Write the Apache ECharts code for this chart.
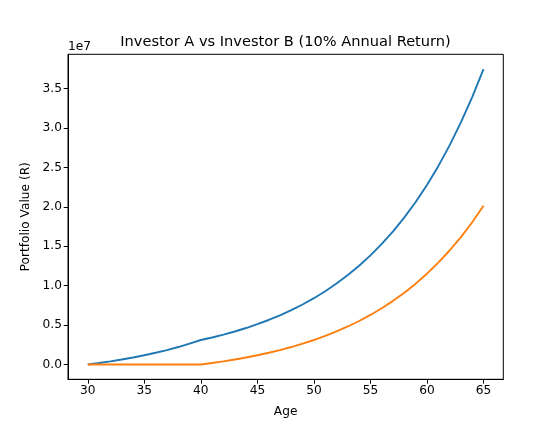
<!DOCTYPE html>
<html>
<head>
<meta charset="utf-8">
<script src="https://cdn.jsdelivr.net/npm/echarts@6/dist/echarts.min.js"></script>
<style>
html,body{margin:0;padding:0;background:#fff;}
#chart{width:535px;height:425px;}
</style>
</head>
<body>
<div id="chart"></div>
<script>
// Ages (x values)
var ages = [30,31,32,33,34,35,36,37,38,39,40,41,42,43,44,45,46,47,48,49,50,51,52,53,54,55,56,57,58,59,60,61,62,63,64,65];
// Investor A portfolio value (Rand)
var investorA = [0,190800,401500,634200,891400,1175400,1489300,1836000,2219000,2642100,3109600,3435100,3794800,4192200,4631200,5116200,5651900,6243700,6897500,7619800,8417600,9299100,10272800,11348500,12536900,13849600,15299800,16901900,18671800,20627000,22786900,25173000,27809000,30720900,33937800,37491600];
// Investor B portfolio value (Rand)
var investorB = [0,0,0,0,0,0,0,0,0,0,0,190800,401500,634200,891400,1175400,1489300,1836000,2219000,2642100,3109600,3625900,4196400,4826500,5522700,6291700,7141300,8079800,9116600,10262000,11527300,12925100,14469300,16175100,18059600,20141400];
// Tick values
var xTicks = [30,35,40,45,50,55,60,65];
var yTicks = [0,5e6,10e6,15e6,20e6,25e6,30e6,35e6];

function pairs(xs, ys){ var out=[]; for(var i=0;i<xs.length;i++){ out.push([xs[i], ys[i]]); } return out; }

var chart = echarts.init(document.getElementById('chart'), null, {renderer:'canvas'});
var font = 'DejaVu Sans';
chart.setOption({
  animation:false,
  backgroundColor:'#fff',
  textStyle:{fontFamily:font},
  grid:{left:68, top:54.3, right:31.7, bottom:45.7, show:true, borderColor:'#000', borderWidth:1, backgroundColor:'transparent'},
  graphic:[
    {type:'text', x:285.5, y:42, style:{text:'Investor A vs Investor B (10% Annual Return)', font:'14.6px "DejaVu Sans"', fill:'#000', textAlign:'center', textVerticalAlign:'middle'}},
    {type:'text', x:68, y:47, style:{text:'1e7', font:'12.2px "DejaVu Sans"', fill:'#000', textAlign:'left', textVerticalAlign:'middle'}}
  ],
  xAxis:{
    type:'value', min:28.25, max:66.75,
    name:'Age', nameLocation:'middle', nameGap:26.5,
    nameTextStyle:{fontFamily:font, fontSize:12.2, color:'#000'},
    axisLine:{show:true, onZero:false, lineStyle:{color:'#000', width:1}},
    axisTick:{show:true, inside:false, length:4.3, lineStyle:{color:'#000', width:1}, customValues:xTicks},
    axisLabel:{show:true, margin:6, fontFamily:font, fontSize:12.2, color:'#000', customValues:xTicks, formatter:function(v){return String(v);}},
    splitLine:{show:false}
  },
  yAxis:{
    type:'value', min:-1874600, max:39366200,
    name:'Portfolio Value (R)', nameLocation:'middle', nameGap:32, nameRotate:90,
    nameTextStyle:{fontFamily:font, fontSize:12.2, color:'#000'},
    axisLine:{show:true, onZero:false, lineStyle:{color:'#000', width:1}},
    axisTick:{show:true, inside:false, length:4.3, lineStyle:{color:'#000', width:1}, customValues:yTicks},
    axisLabel:{show:true, margin:6, fontFamily:font, fontSize:12.2, color:'#000', customValues:yTicks, formatter:function(v){return (v/1e7).toFixed(1);}},
    splitLine:{show:false}
  },
  series:[
    {type:'line', name:'Investor A', data:pairs(ages, investorA), showSymbol:false, symbol:'none', lineStyle:{color:'#1f77b4', width:1.9}, itemStyle:{color:'#1f77b4'}, z:3},
    {type:'line', name:'Investor B', data:pairs(ages, investorB), showSymbol:false, symbol:'none', lineStyle:{color:'#ff7f0e', width:1.9}, itemStyle:{color:'#ff7f0e'}, z:4}
  ]
});
</script>
</body>
</html>
